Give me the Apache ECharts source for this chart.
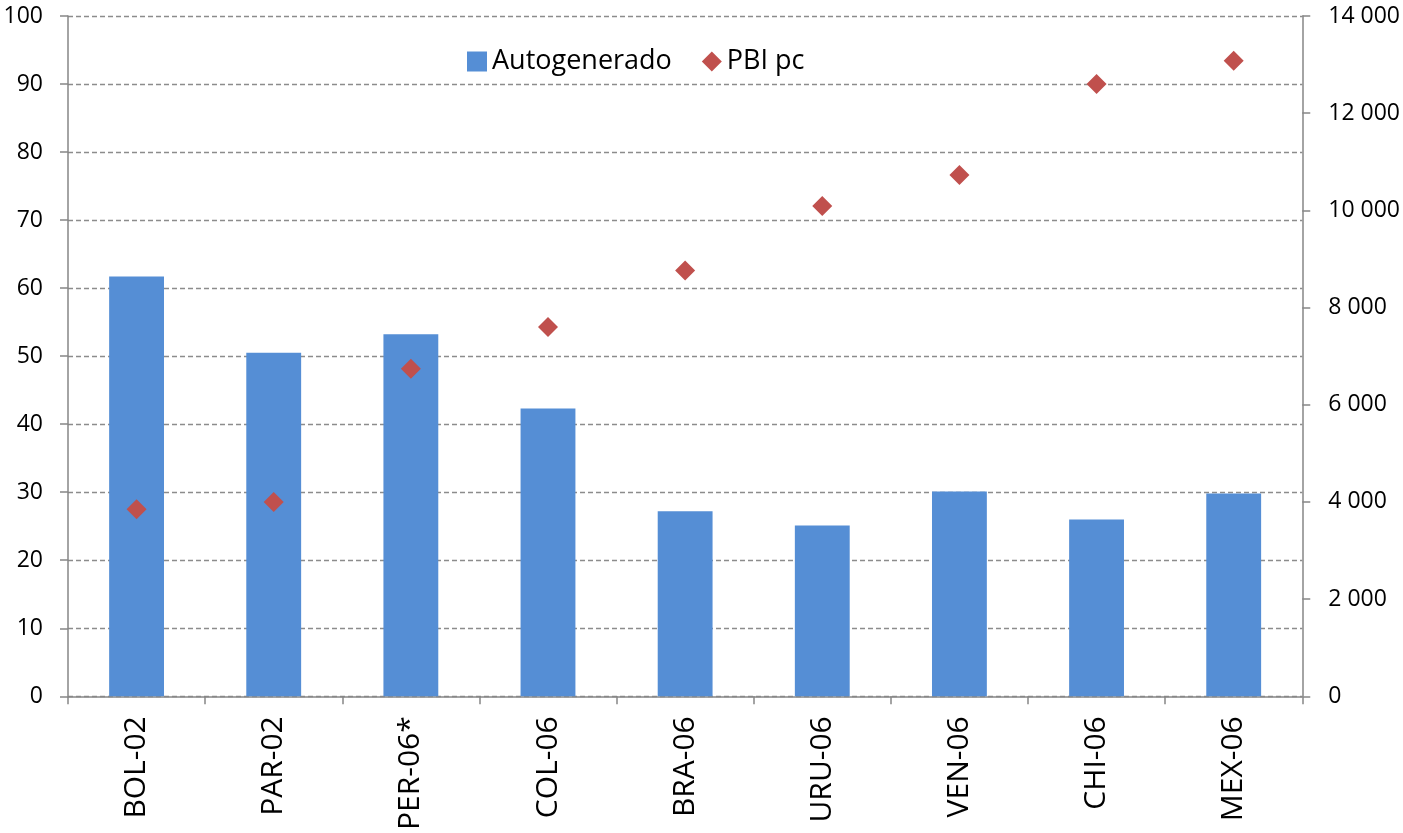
<!DOCTYPE html>
<html lang="es">
<head>
<meta charset="UTF-8">
<title>Autogenerado y PBI pc</title>
<script src="https://cdn.jsdelivr.net/npm/echarts@6.0.0/dist/echarts.min.js"></script>
<style>
  html, body { margin: 0; padding: 0; background: #fff; }
  #main { width: 1403px; height: 833px; }
</style>
</head>
<body>
<div id="main"></div>
<script>
// data
const categories = ['BOL-02', 'PAR-02', 'PER-06*', 'COL-06', 'BRA-06', 'URU-06', 'VEN-06', 'CHI-06', 'MEX-06'];
const autogenerado = [61.7, 50.5, 53.2, 42.3, 27.2, 25.1, 30.1, 26.0, 29.8];
const pbiPc = [3850, 4000, 6740, 7600, 8760, 10090, 10730, 12600, 13080];

const chart = echarts.init(document.getElementById('main'));
const font = '"Open Sans", sans-serif';
const axisGrey = '#868686';

// "14 000" style thousands
function spaced(v) {
  return String(v).replace(/\B(?=(\d{3})+(?!\d))/g, ' ');
}

chart.setOption({
  animation: false,
  textStyle: { fontFamily: font },
  grid: { left: 68, right: 99, top: 16, bottom: 136 },
  legend: {
    top: 43,
    left: 462,
    itemGap: 30,
    itemWidth: 20,
    itemHeight: 20,
    textStyle: { fontSize: 27, color: '#000', fontFamily: font },
    data: [
      { name: 'Autogenerado', icon: 'rect' },
      { name: 'PBI pc', icon: 'diamond' }
    ]
  },
  xAxis: {
    type: 'category',
    data: categories,
    axisLine: { lineStyle: { color: axisGrey, width: 1.5 } },
    axisTick: { show: true, length: 8, lineStyle: { color: axisGrey, width: 1.5 } },
    axisLabel: { rotate: 90, fontSize: 30, color: '#000', margin: 20 }
  },
  yAxis: [
    {
      type: 'value', min: 0, max: 100, interval: 10,
      axisLine: { show: true, lineStyle: { color: axisGrey, width: 1.5 } },
      axisTick: { show: true, length: 8, lineStyle: { color: axisGrey, width: 1.5 } },
      axisLabel: { fontSize: 23, color: '#000', margin: 25 },
      splitLine: { lineStyle: { color: '#8c8c8c', type: [5, 3], width: 1.3 } }
    },
    {
      type: 'value', min: 0, max: 14000, interval: 2000,
      axisLine: { show: true, lineStyle: { color: axisGrey, width: 1.5 } },
      axisTick: { show: true, length: 8, lineStyle: { color: axisGrey, width: 1.5 } },
      axisLabel: { fontSize: 23, color: '#000', margin: 26, formatter: spaced },
      splitLine: { show: false }
    }
  ],
  series: [
    {
      name: 'Autogenerado',
      type: 'bar',
      data: autogenerado,
      barWidth: '40%',
      itemStyle: { color: '#558ED5' }
    },
    {
      name: 'PBI pc',
      type: 'scatter',
      yAxisIndex: 1,
      data: pbiPc,
      symbol: 'diamond',
      symbolSize: 20,
      itemStyle: { color: '#C0504D', opacity: 1 }
    }
  ]
});
</script>
</body>
</html>
